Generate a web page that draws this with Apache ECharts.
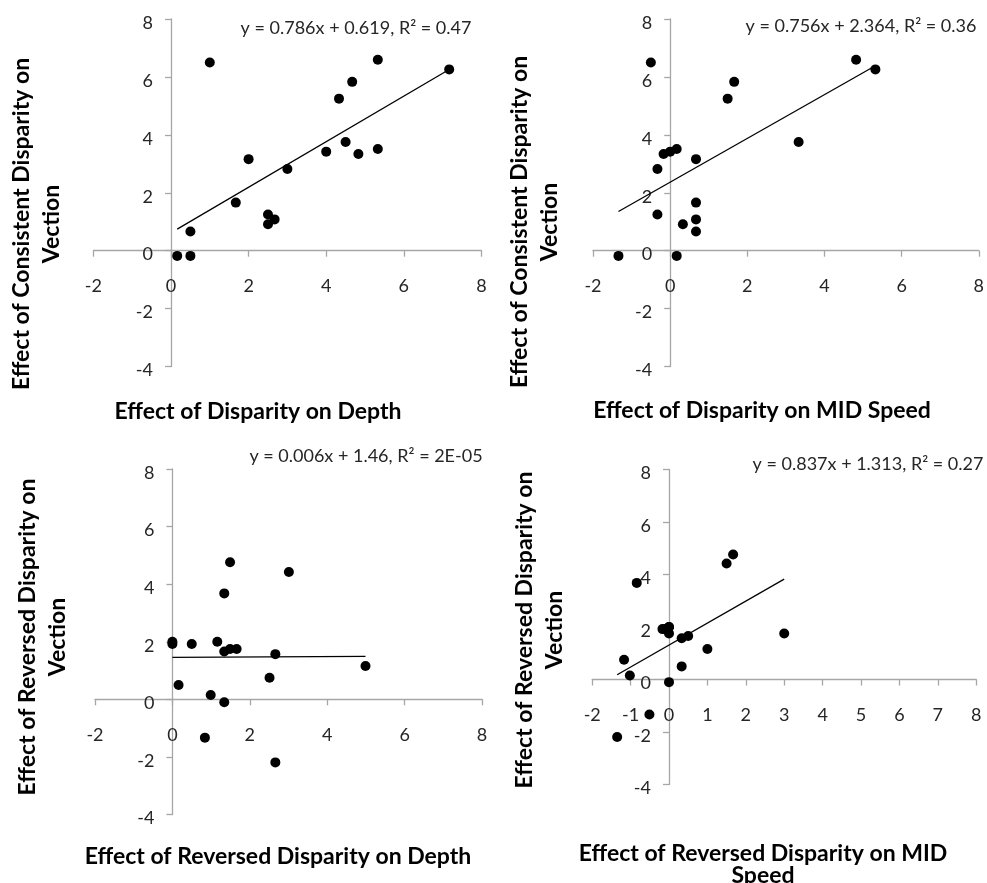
<!DOCTYPE html>
<html>
<head>
<meta charset="utf-8">
<script src="https://cdn.jsdelivr.net/npm/echarts@6/dist/echarts.min.js"></script>
<style>
  html, body { margin: 0; padding: 0; background: #fff; }
  #chart { width: 987px; height: 883px; }
</style>
</head>
<body>
<div id="chart"></div>
<script>
// consistent disparity: vection effect vs depth / MID speed effects (one entry per participant)
const consistentVection = [-0.18, -0.18, 0.66, 6.50, 1.66, 3.16, 1.25, 0.91, 1.08, 2.82, 3.42, 5.25, 3.75, 5.83, 3.34, 6.59, 3.51, 6.26];
const consistentDepth   = [0.16, 0.50, 0.50, 1.00, 1.67, 2.00, 2.50, 2.50, 2.67, 3.00, 4.00, 4.33, 4.50, 4.67, 4.83, 5.33, 5.33, 7.17];
const consistentSpeed   = [-1.34, 0.17, 0.67, -0.50, 0.67, 0.67, -0.33, 0.33, 0.67, -0.33, 0.00, 1.49, 3.33, 1.66, -0.17, 4.82, 0.17, 5.32];

// reversed disparity
const reversedVection = [2.00, 1.92, 0.50, 1.92, 0.15, -1.33, 2.00, 3.68, 1.66, -0.10, 1.75, 4.76, 1.75, 0.75, 1.57, -2.19, 4.42, 1.16];
const reversedDepth   = [0.00, 0.00, 0.16, 0.50, 0.99, 0.84, 1.16, 1.34, 1.34, 1.34, 1.49, 1.49, 1.66, 2.51, 2.66, 2.66, 3.01, 4.99];
const reversedSpeed   = [0.00, -0.17, 0.33, -0.10, -1.02, -0.51, 0.00, -0.84, 0.50, 0.00, 0.00, 1.67, 3.00, -1.17, 0.33, -1.35, 1.50, 1.00];

// fitted trendlines as printed on each panel
const slopes     = [0.786, 0.756, 0.006, 0.837];
const intercepts = [0.619, 2.364, 1.46, 1.313];
const equations  = [
  'y = 0.786x + 0.619, R² = 0.47',
  'y = 0.756x + 2.364, R² = 0.36',
  'y = 0.006x + 1.46, R² = 2E-05',
  'y = 0.837x + 1.313, R² = 0.27'
];
const xTitles = [
  'Effect of Disparity on Depth',
  'Effect of Disparity on MID Speed',
  'Effect of Reversed Disparity on Depth',
  'Effect of Reversed Disparity on MID\nSpeed'
];
const yTitles = [
  'Effect of Consistent Disparity on\nVection',
  'Effect of Consistent Disparity on\nVection',
  'Effect of Reversed Disparity on\nVection',
  'Effect of Reversed Disparity on\nVection'
];
const xMin = -2, xMax = 8, yMin = -4, yMax = 8;
const xIntervals = [2, 2, 2, 1];

const panels = [
  { xs: consistentDepth, ys: consistentVection },
  { xs: consistentSpeed, ys: consistentVection },
  { xs: reversedDepth, ys: reversedVection },
  { xs: reversedSpeed, ys: reversedVection }
];

const FONT = 'Lato, "Open Sans", sans-serif';
const AXIS_GREY = '#a6a6a6';

const grids = [
  { left: 93.4, top: 19, width: 388, height: 347.5 },
  { left: 593, top: 19, width: 386, height: 347.5 },
  { left: 95, top: 469, width: 387, height: 345.5 },
  { left: 592.2, top: 469.5, width: 384, height: 315 }
];

const chart = echarts.init(document.getElementById('chart'));

// axes cross at zero; shift them there with an offset so labels follow the line
const xAxes = grids.map((g, i) => ({
  gridIndex: i,
  type: 'value',
  min: xMin,
  max: xMax,
  interval: xIntervals[i],
  offset: -g.height * (0 - yMin) / (yMax - yMin),
  axisLine: { onZero: false, lineStyle: { color: AXIS_GREY, width: 1.3 } },
  axisTick: { show: true, inside: false, length: 6, lineStyle: { color: AXIS_GREY, width: 1.3 } },
  axisLabel: { margin: 27, color: '#262626', fontSize: 18, fontFamily: FONT },
  splitLine: { show: false }
}));

const yAxes = grids.map((g, i) => ({
  gridIndex: i,
  type: 'value',
  min: yMin,
  max: yMax,
  interval: 2,
  offset: -g.width * (0 - xMin) / (xMax - xMin),
  axisLine: { onZero: false, lineStyle: { color: AXIS_GREY, width: 1.3 } },
  axisTick: { show: true, inside: false, length: 6, lineStyle: { color: AXIS_GREY, width: 1.3 } },
  axisLabel: { margin: 18, color: '#262626', fontSize: 18, fontFamily: FONT, verticalAlign: 'top', lineHeight: 8 },
  splitLine: { show: false }
}));

const series = [];
panels.forEach((p, i) => {
  series.push({
    type: 'scatter',
    xAxisIndex: i,
    yAxisIndex: i,
    symbolSize: 10,
    itemStyle: { color: '#000', opacity: 1 },
    data: p.xs.map((x, k) => [x, p.ys[k]])
  });
  const lo = Math.min(...p.xs);
  const hi = Math.max(...p.xs);
  series.push({
    type: 'line',
    xAxisIndex: i,
    yAxisIndex: i,
    symbol: 'none',
    silent: true,
    lineStyle: { color: '#000', width: 1.3 },
    data: [[lo, slopes[i] * lo + intercepts[i]], [hi, slopes[i] * hi + intercepts[i]]]
  });
});

// text placements (equation, x title, y title)
const eqPos = [[356, 28], [861, 26], [366, 456], [868, 464]];
const xTitlePos = [[258, 412], [762, 411], [278, 857], [763, 865]];
const yTitlePos = [[37, 224], [535, 222], [43, 637], [540, 630]];

const graphic = [];
for (let i = 0; i < 4; i++) {
  graphic.push({
    type: 'text', x: eqPos[i][0], y: eqPos[i][1],
    style: { text: equations[i], font: '18px ' + FONT, fill: '#262626', align: 'center', verticalAlign: 'middle' }
  });
  graphic.push({
    type: 'text', x: xTitlePos[i][0], y: xTitlePos[i][1],
    style: { text: xTitles[i], font: 'bold 23px ' + FONT, fill: '#000', align: 'center', verticalAlign: 'middle', lineHeight: 22 }
  });
  graphic.push({
    type: 'text', x: yTitlePos[i][0], y: yTitlePos[i][1], rotation: Math.PI / 2,
    style: { text: yTitles[i], font: 'bold 23px ' + FONT, fill: '#000', align: 'center', verticalAlign: 'middle', lineHeight: 30 }
  });
}

chart.setOption({
  animation: false,
  backgroundColor: '#fff',
  grid: grids,
  xAxis: xAxes,
  yAxis: yAxes,
  series: series,
  graphic: graphic
});
</script>
</body>
</html>
